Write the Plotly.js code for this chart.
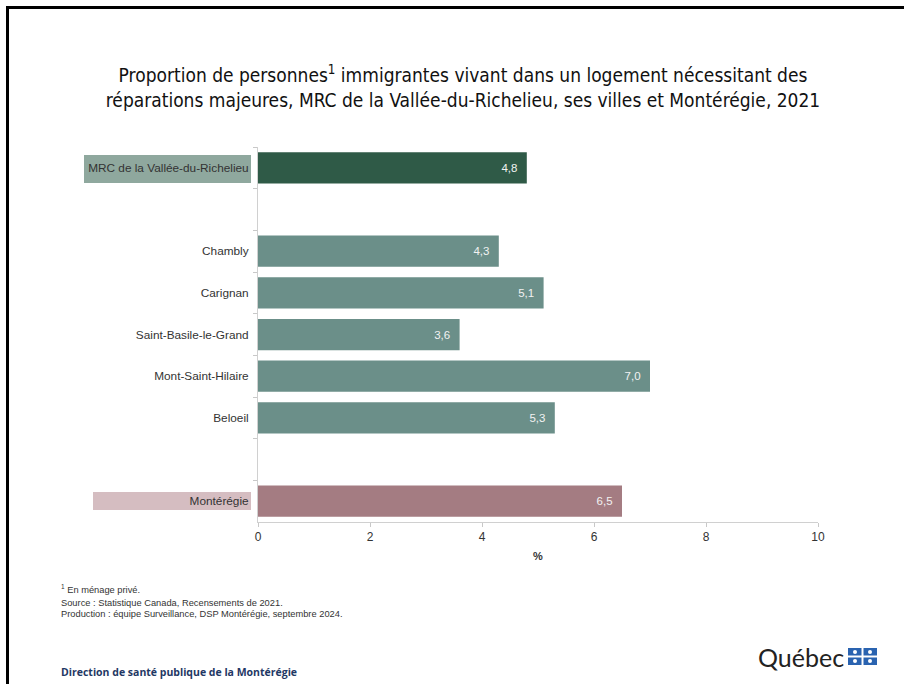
<!DOCTYPE html>
<html>
<head>
<meta charset="utf-8">
<script src="https://cdn.plot.ly/plotly-3.0.1.min.js"></script>
<style>
  html, body { margin: 0; padding: 0; background: #fff; }
  #chart { width: 904px; height: 684px; position: relative; }
  #frame { position: absolute; left: 6px; top: 6px; width: 1000px; height: 1000px;
           border: 3px solid #000; pointer-events: none; z-index: 10; }
  #wrap { position: relative; width: 904px; height: 684px; overflow: hidden; }
</style>
</head>
<body>
<div id="wrap">
  <div id="chart"></div>
  <div id="frame"></div>
</div>
<script>
// ---- Data ----
const categories = ["MRC de la Vallée-du-Richelieu", "Chambly", "Carignan", "Saint-Basile-le-Grand", "Mont-Saint-Hilaire", "Beloeil", "Montérégie"];
const values = [4.8, 4.3, 5.1, 3.6, 7.0, 5.3, 6.5];
const groups = ["mrc", "ville", "ville", "ville", "ville", "ville", "region"];
const xTicks = [0, 2, 4, 6, 8, 10];

// category order with spacer slots
const categoryOrder = [categories[0], " ", categories[1], categories[2], categories[3], categories[4], categories[5], "  ", categories[6]];

const groupColors = { mrc: "#2f5a47", ville: "#6b8f89", region: "#a47c82" };

const fmt = v => v.toFixed(1).replace(".", ",") + "\u00a0\u00a0";

const trace = {
  type: "bar",
  orientation: "h",
  y: categories,
  x: values,
  width: 0.75,
  marker: { color: groups.map(g => groupColors[g]) },
  text: values.map(fmt),
  textposition: "inside",
  insidetextanchor: "end",
  textangle: 0,
  textfont: { family: "Liberation Sans, Arial, sans-serif", size: 11.5, color: "#f2f2f2" },
  hoverinfo: "none",
  cliponaxis: false
};

// pixel -> paper helpers (plot area: x 258..818, y 147..522)
const L = 258, R = 818, T = 147, B = 522;
const px = x => (x - L) / (R - L);
const py = y => (B - y) / (B - T);

const rect = (x0, y0, x1, y1, color) => ({
  type: "rect", xref: "paper", yref: "paper", layer: "below",
  x0: px(x0), x1: px(x1), y0: py(y1), y1: py(y0),
  fillcolor: color, line: { width: 0 }
});

const shapes = [
  rect(84, 155, 251, 183, "#8fa89e"),
  rect(93, 492, 251, 510, "#d5bdc1"),
  // Québec flag
  { type: "rect", xref: "paper", yref: "paper", layer: "above",
    x0: px(848), x1: px(877), y0: py(665), y1: py(648),
    fillcolor: "#2a63b0", line: { width: 0 } },
  { type: "line", xref: "paper", yref: "paper", layer: "above",
    x0: px(862.5), x1: px(862.5), y0: py(665), y1: py(648),
    line: { color: "#fff", width: 2 } },
  { type: "line", xref: "paper", yref: "paper", layer: "above",
    x0: px(848), x1: px(877), y0: py(656.5), y1: py(656.5),
    line: { color: "#fff", width: 2 } }
];
// small fleur marks
[[855, 652], [870, 652], [855, 661], [870, 661]].forEach(([cx, cy]) => {
  shapes.push({ type: "circle", xref: "paper", yref: "paper", layer: "above",
    x0: px(cx - 2), x1: px(cx + 2), y0: py(cy + 2), y1: py(cy - 2),
    fillcolor: "#fff", line: { width: 0 } });
});

const noteFont = { family: "Liberation Sans, Arial, sans-serif", size: 9.3, color: "#333" };
const ann = (text, x, y, font, extra) => Object.assign({
  text, xref: "paper", yref: "paper", x: px(x), y: py(y),
  xanchor: "left", yanchor: "middle", showarrow: false, font, align: "left"
}, extra || {});

const annotations = [
  ann("<sup>1</sup> En ménage privé.", 59, 589, noteFont),
  ann("Source : Statistique Canada, Recensements de 2021.", 59, 603, noteFont),
  ann("Production : équipe Surveillance, DSP Montérégie, septembre 2024.", 59, 614, noteFont),
  ann("<b>Direction de santé publique de la Montérégie</b>", 59, 672,
      { family: "Open Sans, Liberation Sans, sans-serif", size: 10.5, color: "#1f3864" }),
  ann("Québec", 756, 657, { family: "Lato, Open Sans, sans-serif", size: 25, color: "#222" })
];

const layout = {
  width: 904, height: 684,
  margin: { l: L, r: 904 - R, t: T, b: 684 - B, pad: 0 },
  paper_bgcolor: "#fff",
  plot_bgcolor: "#fff",
  showlegend: false,
  separators: ", ",
  title: {
    text: "Proportion de personnes<sup>1</sup> immigrantes vivant dans un logement nécessitant des<br>réparations majeures, MRC de la Vallée-du-Richelieu, ses villes et Montérégie, 2021",
    x: 463 / 904, xanchor: "center", xref: "container",
    y: 1 - 82 / 684, yanchor: "top", yref: "container",
    font: { family: "Liberation Sans Narrow, DejaVu Sans Condensed, Roboto, sans-serif", size: 19, color: "#111" }
  },
  xaxis: {
    range: [0, 10],
    tickvals: xTicks,
    ticktext: xTicks.map(String),
    showgrid: false, zeroline: false,
    showline: true, linecolor: "#d0d0d0", linewidth: 1,
    ticks: "outside", ticklen: 4, tickcolor: "#c8c8c8",
    tickfont: { family: "Liberation Sans, Arial, sans-serif", size: 12, color: "#333" },
    title: { text: "<b>%</b>", font: { family: "Liberation Sans, Arial, sans-serif", size: 11, color: "#333" }, standoff: 8 },
    fixedrange: true
  },
  yaxis: {
    type: "category",
    categoryorder: "array",
    categoryarray: categoryOrder,
    range: [categoryOrder.length - 0.5, -0.5],
    showgrid: false, zeroline: false,
    showline: true, linecolor: "#d0d0d0", linewidth: 1,
    ticks: "outside", ticklen: 4, tickcolor: "#c8c8c8", tickson: "boundaries",
    ticklabelstandoff: 6,
    tickfont: { family: "Liberation Sans, Arial, sans-serif", size: 11.8, color: "#333" },
    fixedrange: true
  },
  shapes, annotations
};

Plotly.newPlot("chart", [trace], layout, { staticPlot: true, displayModeBar: false });
</script>
</body>
</html>
